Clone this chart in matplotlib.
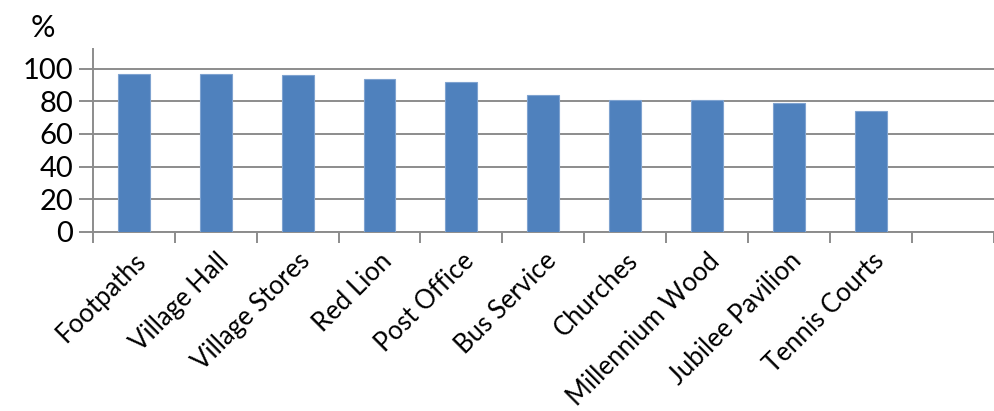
import matplotlib.pyplot as plt
import numpy as np

# Data
facilities = ["Footpaths", "Village Hall", "Village Stores", "Red Lion", "Post Office",
              "Bus Service", "Churches", "Millennium Wood", "Jubilee Pavilion", "Tennis Courts"]
percent = [97, 97, 96, 94, 92, 84, 81, 81, 79, 74]
y_ticks = [0, 20, 40, 60, 80, 100]
n_slots = 11  # one empty slot at the end

plt.rcParams['font.family'] = ['Lato', 'DejaVu Sans']

fig = plt.figure(figsize=(9.94, 4.11), dpi=100)
ax = fig.add_axes([0.0933, 0.4363, 0.9067, 0.4437])

x = np.arange(len(facilities))
ax.bar(x, percent, width=0.39, color="#4F81BD", edgecolor="#7FA3D0", linewidth=0.8, zorder=3)

ax.set_xlim(-0.5, n_slots - 0.5)
ax.set_ylim(0, 112)

# gridlines
ax.set_yticks(y_ticks)
ax.set_yticklabels([str(v) for v in y_ticks], fontsize=21)
ax.yaxis.grid(True, color="#8C8C8C", linewidth=1.4, zorder=0)
ax.tick_params(axis="y", length=10, width=1.4, color="#8C8C8C", pad=4)

# category labels
ax.set_xticks(x)
ax.set_xticklabels(facilities, fontsize=18.5, rotation=45, ha="right", va="top",
                   rotation_mode="anchor")
ax.tick_params(axis="x", length=0, pad=12)
ax.set_xticks(np.arange(n_slots + 1) - 0.5, minor=True)
ax.tick_params(axis="x", which="minor", length=8, width=1.4, color="#8C8C8C")

for s in ["top", "right"]:
    ax.spines[s].set_visible(False)
for s in ["left", "bottom"]:
    ax.spines[s].set_color("#8C8C8C")
    ax.spines[s].set_linewidth(1.4)

fig.text(0.031, 0.91, "%", fontsize=22)

fig.savefig("out.png", dpi=100)
